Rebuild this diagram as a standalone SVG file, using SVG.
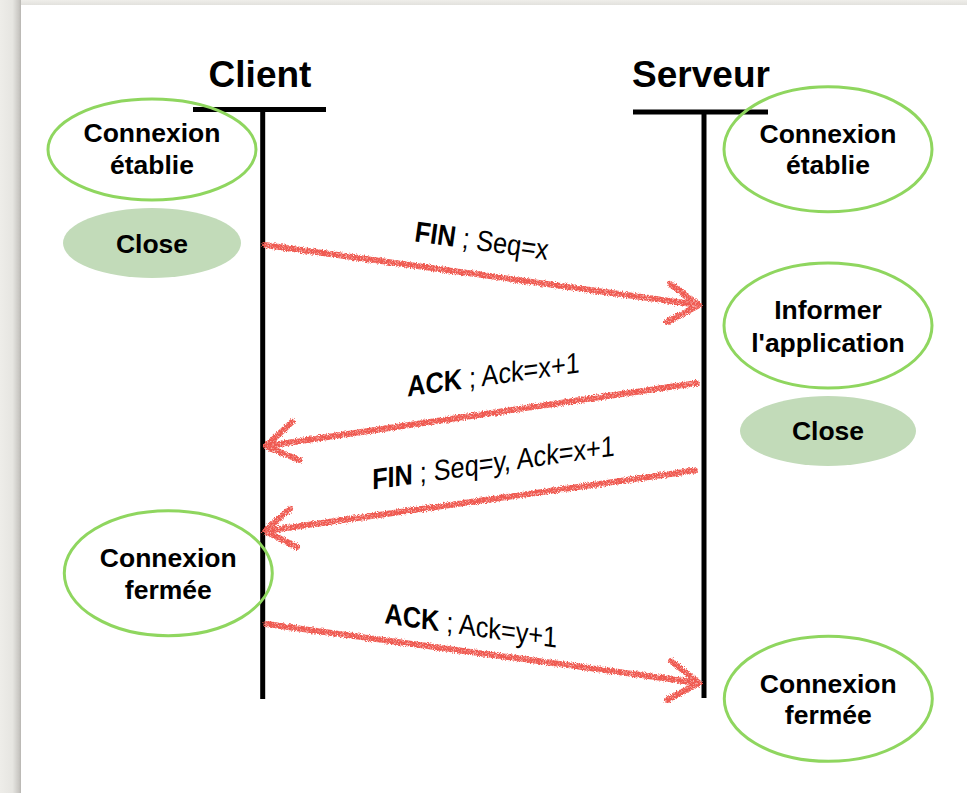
<svg xmlns="http://www.w3.org/2000/svg" width="967" height="793" viewBox="0 0 967 793">
<defs>
<linearGradient id="lshadow" x1="0" y1="0" x2="1" y2="0">
<stop offset="0" stop-color="#eeede9"/>
<stop offset="0.6" stop-color="#e6e5e1"/>
<stop offset="0.9" stop-color="#c9c7c3"/>
<stop offset="1" stop-color="#b8b6b2"/>
</linearGradient>
<linearGradient id="tshadow" x1="0" y1="0" x2="0" y2="1">
<stop offset="0" stop-color="#efeeea"/>
<stop offset="1" stop-color="#e2e1dd"/>
</linearGradient>
<filter id="chalk" x="-5%" y="-20%" width="110%" height="140%">
<feTurbulence type="fractalNoise" baseFrequency="1.1" numOctaves="2" seed="3" result="n"/>
<feDisplacementMap in="SourceGraphic" in2="n" scale="4.5" xChannelSelector="R" yChannelSelector="G" result="d"/>
<feTurbulence type="fractalNoise" baseFrequency="1.6" numOctaves="1" seed="7" result="g"/>
<feColorMatrix in="g" type="matrix" values="0 0 0 0 0  0 0 0 0 0  0 0 0 0 0  0 0 0 -2.2 2.1" result="ga"/>
<feComposite in="d" in2="ga" operator="in"/>
</filter>
<style>
.life{stroke:#000;stroke-width:5;fill:none}
.ell{fill:none;stroke:#8fd65f;stroke-width:3}
.cls{fill:#c2dbb9;stroke:none}
.t{font-family:"Liberation Sans",Arial,Helvetica,sans-serif;font-weight:bold;font-size:26.5px;fill:#000;text-anchor:middle}
.h{font-family:"Liberation Sans",Arial,Helvetica,sans-serif;font-weight:bold;font-size:37px;fill:#000;text-anchor:middle}
.lbl{font-family:"Liberation Sans",Arial,Helvetica,sans-serif;font-size:29px;fill:#000;text-anchor:middle}
.lbl .b{font-weight:bold}
.arr{fill:none;stroke:#ef5a51;stroke-width:6;stroke-linecap:round;stroke-linejoin:round}
</style>
</defs>
<rect x="0" y="0" width="967" height="793" fill="#ffffff"/>
<rect x="0" y="0" width="967" height="5" fill="url(#tshadow)"/>
<rect x="0" y="0" width="21" height="793" fill="url(#lshadow)"/>

<g id="client-lifeline">
<text class="h" x="260" y="87">Client</text>
<line class="life" x1="193" y1="109.5" x2="326" y2="109.5"/>
<line class="life" x1="262.7" y1="109" x2="262.7" y2="699"/>
</g>
<g id="server-lifeline">
<text class="h" x="701" y="87">Serveur</text>
<line class="life" x1="633" y1="112" x2="768" y2="112"/>
<line class="life" x1="704" y1="112" x2="704" y2="698"/>
</g>

<g id="client-etablie">
<ellipse class="ell" cx="152" cy="149.5" rx="104" ry="50.5"/>
<text class="t" x="152" y="142">Connexion</text>
<text class="t" x="152" y="173.5">établie</text>
</g>
<g id="client-close">
<ellipse class="cls" cx="152" cy="243" rx="89" ry="35"/>
<text class="t" x="152" y="253">Close</text>
</g>
<g id="server-etablie">
<ellipse class="ell" cx="828" cy="149.3" rx="104" ry="62.5"/>
<text class="t" x="828" y="142.5">Connexion</text>
<text class="t" x="828" y="174">établie</text>
</g>
<g id="server-informer">
<ellipse class="ell" cx="828" cy="325.5" rx="104" ry="62.5"/>
<text class="t" x="828" y="319">Informer</text>
<text class="t" x="828" y="351.5">l'application</text>
</g>
<g id="server-close">
<ellipse class="cls" cx="828" cy="431" rx="88" ry="35"/>
<text class="t" x="828" y="439.5">Close</text>
</g>
<g id="client-fermee">
<ellipse class="ell" cx="168.3" cy="573.2" rx="104" ry="62.5"/>
<text class="t" x="168.3" y="566.5">Connexion</text>
<text class="t" x="168.3" y="599">fermée</text>
</g>
<g id="server-fermee">
<ellipse class="ell" cx="828.3" cy="698.8" rx="104" ry="62.5"/>
<text class="t" x="828.3" y="692.5">Connexion</text>
<text class="t" x="828.3" y="724">fermée</text>
</g>

<g id="connectors" filter="url(#chalk)">
<path class="arr" d="M265,245 L699,305 M670,284 L699,305 L667,322"/>
<path class="arr" d="M697,383 L266,446 M292,422 L266,446 L299,460"/>
<path class="arr" d="M695,470.5 L265,531 M290,509 L265,531 L297,547"/>
<path class="arr" d="M266,624 L699,683 M671,661 L699,683 L667,700"/>
</g>

<g id="labels">
<text class="lbl" transform="translate(480.5,250.5) rotate(8) scale(0.875,1)"><tspan class="b">FIN</tspan> ; Seq=x</text>
<text class="lbl" transform="translate(493.5,384.5) skewY(-8) scale(0.87,1)"><tspan class="b">ACK</tspan> ; Ack=x+1</text>
<text class="lbl" transform="translate(493.5,472.5) skewY(-8) scale(0.87,1)"><tspan class="b">FIN</tspan> ; Seq=y, Ack=x+1</text>
<text class="lbl" transform="translate(470.5,635.5) rotate(8) skewX(6) scale(0.88,1)"><tspan class="b">ACK</tspan> ; Ack=y+1</text>
</g>
</svg>
